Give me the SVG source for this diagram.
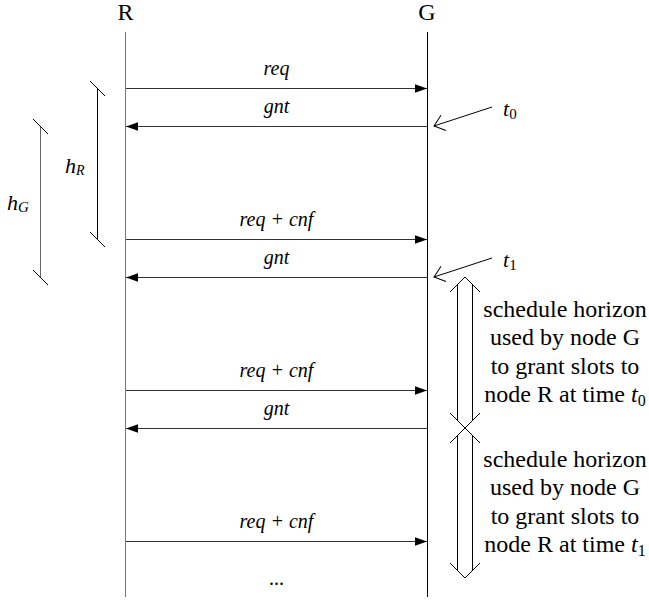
<svg xmlns="http://www.w3.org/2000/svg" width="649" height="600" viewBox="0 0 649 600" font-family="'Liberation Serif', 'Times New Roman', 'DejaVu Serif', serif">
<defs>
<marker id="fa" markerUnits="userSpaceOnUse" markerWidth="12" markerHeight="9" viewBox="0 0 11 8" refX="11" refY="4" orient="auto"><path d="M0,0 L11,4 L0,8 z" fill="#000"/></marker>
<marker id="oa" markerUnits="userSpaceOnUse" markerWidth="14" markerHeight="20" viewBox="-12 -10 14 20" refX="0" refY="0" orient="auto"><path d="M-10,-8 L0,0 L-10,8" fill="none" stroke="#000" stroke-width="1"/></marker>
</defs>
<style>
text{font-family:'Liberation Serif','Times New Roman',serif;fill:#000}
.head{font-size:24px;text-anchor:middle}
.lbl{font-size:20px;font-style:italic;text-anchor:middle}
.msg{stroke:#333;stroke-width:1;fill:none;marker-end:url(#fa)}
.life{stroke-width:1;fill:none}
.thin{stroke:#000;stroke-width:1;fill:none}
.note{font-size:24px;text-anchor:middle}
.it{font-style:italic}
.sym{font-size:22px;font-style:italic}
</style>

<g id="lifeline-R">
<text class="head" x="125.5" y="20" font-family="Liberation Serif, serif">R</text>
<line class="life" x1="125.5" y1="32" x2="125.5" y2="597" stroke="#777"/>
</g>
<g id="lifeline-G">
<text class="head" x="427" y="20" font-family="Liberation Serif, serif">G</text>
<line class="life" x1="427.5" y1="32" x2="427.5" y2="597" stroke="#000"/>
</g>

<g id="connectors">
<line class="msg" x1="126" y1="88.5" x2="427" y2="88.5"/>
<line class="msg" x1="427" y1="126.5" x2="126" y2="126.5"/>
<line class="msg" x1="126" y1="239.5" x2="427" y2="239.5"/>
<line class="msg" x1="427" y1="277.5" x2="126" y2="277.5"/>
<line class="msg" x1="126" y1="390.5" x2="427" y2="390.5"/>
<line class="msg" x1="427" y1="428.5" x2="126" y2="428.5"/>
<line class="msg" x1="126" y1="541.5" x2="427" y2="541.5"/>
</g>

<g id="message-labels" font-family="Liberation Serif, serif">
<text class="lbl" x="276.5" y="75">req</text>
<text class="lbl" x="276.5" y="113">gnt</text>
<text class="lbl" x="276.5" y="226">req + cnf</text>
<text class="lbl" x="276.5" y="264">gnt</text>
<text class="lbl" x="276.5" y="377">req + cnf</text>
<text class="lbl" x="276.5" y="415">gnt</text>
<text class="lbl" x="276.5" y="528">req + cnf</text>
<text x="276.5" y="585" font-size="20" text-anchor="middle">...</text>
</g>

<g id="hR">
<line class="thin" x1="97.5" y1="88" x2="97.5" y2="239"/>
<line class="thin" x1="90" y1="81" x2="105" y2="96"/>
<line class="thin" x1="90" y1="232" x2="105" y2="247"/>
<text class="sym" x="65" y="173">h<tspan font-size="14" dy="2">R</tspan></text>
</g>
<g id="hG">
<line class="life" x1="40.5" y1="126" x2="40.5" y2="277" stroke="#666"/>
<line class="thin" x1="33" y1="119" x2="48" y2="134"/>
<line class="thin" x1="33" y1="270" x2="48" y2="285"/>
<text class="sym" x="7" y="210">h<tspan font-size="15" dy="2">G</tspan></text>
</g>

<g id="t0">
<line class="thin" x1="492" y1="107" x2="434" y2="126" marker-end="url(#oa)"/>
<text class="sym" x="503" y="116">t<tspan font-size="15" font-style="normal" dy="3">0</tspan></text>
</g>
<g id="t1">
<line class="thin" x1="492" y1="258" x2="434" y2="277" marker-end="url(#oa)"/>
<text class="sym" x="503" y="267">t<tspan font-size="15" font-style="normal" dy="3">1</tspan></text>
</g>

<g id="horizon-1">
<path class="thin" d="M450,292 L465,277 L480,292 M450,413 L465,428 L480,413 M457.5,285 V420 M472.5,285 V420"/>
<text class="note" x="565" y="317">schedule horizon</text>
<text class="note" x="565" y="345">used by node G</text>
<text class="note" x="565" y="374">to grant slots to</text>
<text class="note" x="565" y="402">node R at time <tspan class="it">t</tspan><tspan font-size="16" dy="4">0</tspan></text>
</g>
<g id="horizon-2">
<path class="thin" d="M450,443 L465,428 L480,443 M450,563 L465,578 L480,563 M457.5,436 V570 M472.5,436 V570"/>
<text class="note" x="565" y="467">schedule horizon</text>
<text class="note" x="565" y="495">used by node G</text>
<text class="note" x="565" y="524">to grant slots to</text>
<text class="note" x="565" y="552">node R at time <tspan class="it">t</tspan><tspan font-size="16" dy="4">1</tspan></text>
</g>
</svg>
